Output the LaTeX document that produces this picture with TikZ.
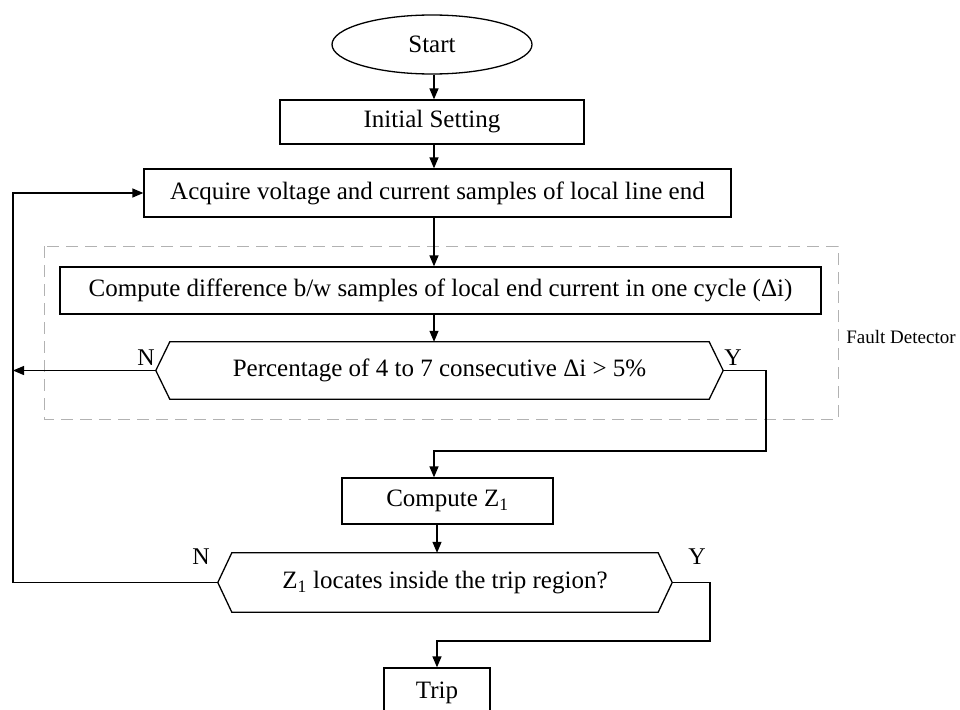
\documentclass[tikz,border=0pt]{standalone}
\usepackage{fontspec}
\setmainfont{Liberation Serif}
\usetikzlibrary{shapes.geometric,arrows.meta}
\tikzset{
  box/.style={draw, line width=1.3pt, inner sep=0pt, font=\fontsize{25}{30}\selectfont},
  hexnode/.style={inner sep=0pt, font=\fontsize{25}{30}\selectfont},
  hexline/.style={line width=1.3pt},
  conn/.style={line width=1.3pt},
  arr/.style={line width=1.3pt, -{Triangle[length=11pt,width=9pt]}},
  lbl/.style={font=\fontsize{24}{28}\selectfont, inner sep=0pt},
  grp/.style={draw=black!30, line width=1pt, dash pattern=on 12pt off 7pt},
}
\begin{document}
\begin{tikzpicture}[x=1pt,y=-1pt]
\useasboundingbox (0,0) rectangle (960,709);
% axes for vertical connectors
\coordinate (ax) at (434,0);
\coordinate (axb) at (437,0);
\coordinate (lx) at (13,0);
\coordinate (yb1) at (766,451);
\coordinate (yb2) at (710,641);
% group
\draw[grp] (44,246) rectangle (838,419);
\node[inner sep=0pt, font=\fontsize{19}{22}\selectfont] (fd) at (901,337) {Fault Detector};
% nodes
\node[box, ellipse, minimum width=200pt, minimum height=59pt] (start) at (432,44.5) {Start};
\node[box, minimum width=304pt, minimum height=44pt] (init) at (432,122) {Initial Setting};
\node[box, minimum width=587pt, minimum height=48pt] (acq) at (437.5,193) {Acquire voltage and current samples of local line end};
\node[box, minimum width=761pt, minimum height=47pt] (comp) at (440.5,290.5) {Compute difference b/w samples of local end current in one cycle (\symbol{"0394}i)};
\node[hexnode, minimum width=567pt, minimum height=57pt] (d1) at (439.5,370.5) {Percentage of 4 to 7 consecutive \symbol{"0394}i > 5\%};
\draw[hexline] (d1.west) -- ([xshift=14pt]d1.north west) -- ([xshift=-14pt]d1.north east) -- (d1.east) -- ([xshift=-14pt]d1.south east) -- ([xshift=14pt]d1.south west) -- cycle;
\node[box, minimum width=211pt, minimum height=46pt] (z1) at (447.5,501) {Compute Z\textsubscript{1}};
\node[hexnode, minimum width=454pt, minimum height=59pt] (d2) at (445,582.5) {Z\textsubscript{1} locates inside the trip region?};
\draw[hexline] (d2.west) -- ([xshift=14pt]d2.north west) -- ([xshift=-14pt]d2.north east) -- (d2.east) -- ([xshift=-14pt]d2.south east) -- ([xshift=14pt]d2.south west) -- cycle;
\node[box, minimum width=106pt, minimum height=50pt] (trip) at (437,693) {Trip};
% labels
\node[lbl] (n1) at (146,358) {N};
\node[lbl] (y1) at (733,358) {Y};
\node[lbl] (n2) at (201,557) {N};
\node[lbl] (y2) at (697,557) {Y};
% connectors
\draw[arr] (start.south -| ax) -- (init.north -| ax);
\draw[arr] (init.south -| ax) -- (acq.north -| ax);
\draw[arr] (acq.south -| ax) -- (comp.north -| ax);
\draw[arr] (comp.south -| ax) -- (d1.north -| ax);
\draw[arr] (d1.east) -| (yb1) -- (yb1 -| ax) -- (z1.north -| ax);
\draw[arr] (z1.south -| axb) -- (d2.north -| axb);
\draw[arr] (d2.east) -| (yb2) -- (yb2 -| axb) -- (trip.north -| axb);
\draw[arr] (d1.west) -- (d1.west -| lx);
\draw[arr] (d2.west) -- (d2.west -| lx) -- (acq.west -| lx) -- (acq.west);
\end{tikzpicture}
\end{document}
